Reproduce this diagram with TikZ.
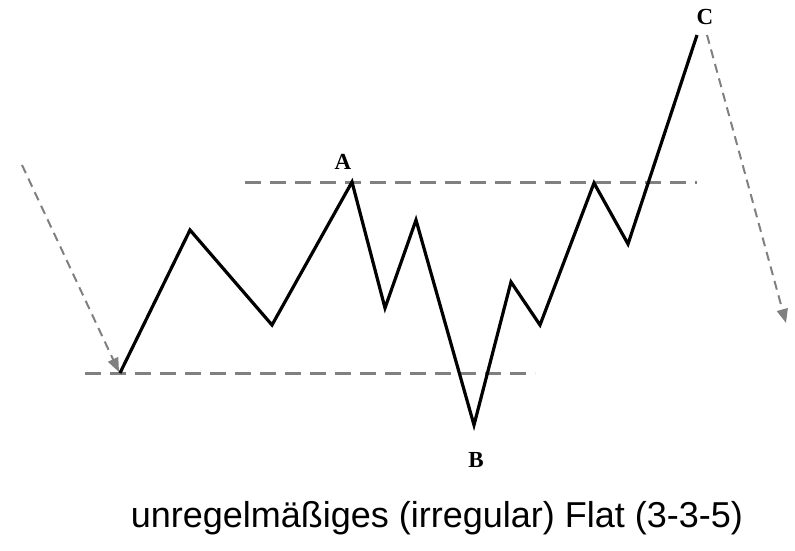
\documentclass[tikz,border=0pt]{standalone}
\usepackage{fontspec}
\setmainfont{Liberation Serif}
\newfontfamily\captionfont{Liberation Sans}
\usetikzlibrary{calc,positioning,arrows.meta}
\definecolor{LevelGray}{HTML}{808080}

\begin{document}
\begin{tikzpicture}[
    x=1pt, y=-1pt,
    wave/.style={line width=3.2pt, black, line join=miter},
    levelline/.style={line width=3pt, LevelGray, dash pattern=on 16pt off 9pt},
    trendarrow/.style={line width=2pt, LevelGray, dash pattern=on 9pt off 6pt,
      -{Triangle[length=14pt,width=11pt]}},
    pointlabel/.style={font=\bfseries\fontsize{23}{23}\selectfont, inner sep=0pt}
  ]
  \useasboundingbox (0,0) rectangle (795,550);

  % wave points
  \coordinate (start) at (120,373);
  \coordinate (w1) at (190,230);
  \coordinate (w2) at (272,325);
  \coordinate (waveA) at (352,182);
  \coordinate (b1) at (385,308);
  \coordinate (b2) at (416,220);
  \coordinate (waveB) at (474,425);
  \coordinate (c1) at (511,282);
  \coordinate (c2) at (540,325);
  \coordinate (c3) at (594,183);
  \coordinate (c4) at (628,244);
  \coordinate (waveC) at (697,35);

  % level lines
  \coordinate (topL) at (245,182);
  \coordinate (topR) at (697,182);
  \coordinate (lowL) at (85,373);
  \coordinate (lowR) at (535,373);
  \draw[levelline] (topL) -- (topR);
  \draw[levelline] (lowL) -- (lowR);

  % trend arrows
  \coordinate (inTail) at (22,165);
  \coordinate (inHead) at (119,372);
  \coordinate (outTail) at (707,35);
  \coordinate (outHead) at (786,323);
  \draw[trendarrow] (inTail) -- (inHead);
  \draw[trendarrow] (outTail) -- (outHead);

  \draw[wave] (start) -- (w1) -- (w2) -- (waveA) -- (b1) -- (b2) -- (waveB)
    -- (c1) -- (c2) -- (c3) -- (c4) -- (waveC);

  \node[pointlabel] (labA) at (343,162) {A};
  \node[pointlabel] (labB) at (476,460) {B};
  \node[pointlabel] (labC) at (705,17) {C};

  \node[font=\captionfont\fontsize{36}{36}\selectfont] (caption) at (437,518)
    {unregelmäßiges (irregular) Flat (3-3-5)};
\end{tikzpicture}
\end{document}
